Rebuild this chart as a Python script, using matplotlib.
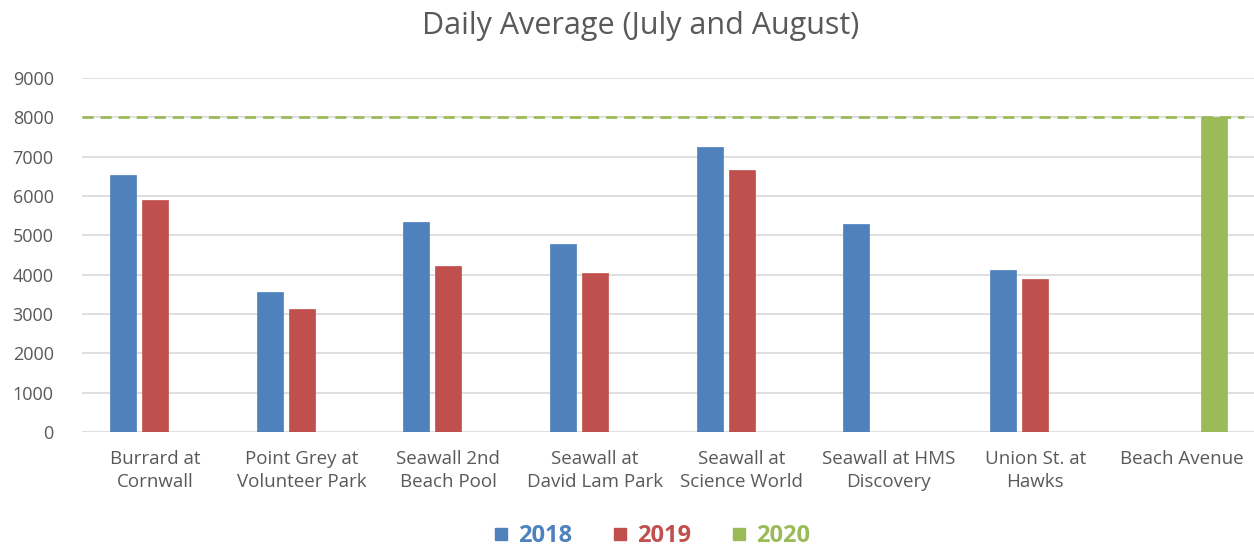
import numpy as np
import matplotlib
matplotlib.use("Agg")
import matplotlib.pyplot as plt
from matplotlib.lines import Line2D

categories = ["Burrard at\nCornwall", "Point Grey at\nVolunteer Park", "Seawall 2nd\nBeach Pool",
              "Seawall at\nDavid Lam Park", "Seawall at\nScience World", "Seawall at HMS\nDiscovery",
              "Union St. at\nHawks", "Beach Avenue"]
v2018 = [6520, 3550, 5340, 4780, 7240, 5280, 4120, np.nan]
v2019 = [5900, 3120, 4220, 4035, 6670, np.nan, 3880, np.nan]
v2020 = [np.nan, np.nan, np.nan, np.nan, np.nan, np.nan, np.nan, 8000]
target = 8000
years = ["2018", "2019", "2020"]
colors = ["#4F81BD", "#C0504D", "#9BBB59"]

plt.rcParams['font.family'] = ['Open Sans', 'DejaVu Sans']
fig = plt.figure(figsize=(12.54, 5.48), dpi=100)
ax = fig.add_axes([0.065, 0.2117, 0.936, 0.6463])

x = np.arange(len(categories))
off = 0.218
w = 0.177
for i, (vals, c) in enumerate(zip([v2018, v2019, v2020], colors)):
    ax.bar(x + (i - 1) * off, vals, width=w, color=c, edgecolor=c, linewidth=0.5, zorder=3)

ax.axhline(target, xmin=0, xmax=0.99, color="#9BBB59", linestyle=(0, (4, 2.5)), linewidth=2, zorder=4)

ax.set_xlim(-0.5, len(categories) - 0.5)
ax.set_ylim(0, 9000)
ax.set_yticks(np.arange(0, 9001, 1000))
ax.yaxis.grid(True, color="#D9D9D9", linewidth=1.2, zorder=0)
ax.set_axisbelow(True)
for s in ax.spines.values():
    s.set_visible(False)
ax.tick_params(axis='both', length=0, colors="#595959", labelsize=13.5)
ax.tick_params(axis='y', pad=20, labelsize=13)
ax.tick_params(axis='x', pad=13)
ax.set_xticks(x)
ax.set_xticklabels(categories, va='top', linespacing=1.35)

fig.text(0.511, 0.952, "Daily Average (July and August)", ha='center', va='center',
         fontsize=22, color="#595959")

handles = [Line2D([], [], marker='s', linestyle='', color=c, markersize=8) for c in colors]
leg = fig.legend(handles, years, loc='center', bbox_to_anchor=(0.518, 0.022), ncol=3,
                 frameon=False, handletextpad=0.25, columnspacing=1.5, handlelength=1.0,
                 prop={'size': 17, 'weight': 'bold'})
for t, c in zip(leg.get_texts(), colors):
    t.set_color(c)

fig.savefig("out.png", dpi=100)
